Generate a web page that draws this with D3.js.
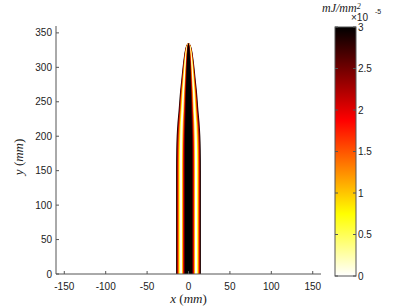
<!DOCTYPE html>
<html>
<head>
<meta charset="utf-8">
<script src="https://cdn.jsdelivr.net/npm/d3@7"></script>
<style>
  body { margin: 0; background: #fff; }
  text { font-family: "Liberation Sans", Arial, sans-serif; }
  .tex { font-family: "Liberation Serif", "Times New Roman", serif; }
</style>
</head>
<body>
<svg id="chart" width="409" height="307"></svg>
<script>
// bullet outline: half width (mm) read at heights y (mm)
var levelY = [0, 50, 100, 150, 180, 200, 220, 237, 250, 265, 281, 293, 305, 315, 324, 329, 332, 334, 335.5]
var halfWidth = [15, 15, 15, 15, 14.8, 14.3, 13.3, 12, 11.2, 10.2, 8.8, 7.8, 6.7, 5.6, 4.4, 3.4, 2.5, 1.6, 0]

// cross profile, centre outward: outer edge of each band (fraction of half width) and its value (x1e-5 mJ/mm^2)
var bandEdge = [1.0, 0.93, 0.85, 0.77, 0.7, 0.52, 0.45, 0.38, 0.3]
var bandValue = [2.9, 2.2, 1.4, 0.7, 0.05, 1.0, 1.8, 2.5, 3.0]

var xTicks = [-150, -100, -50, 0, 50, 100, 150]
var yTicks = [0, 50, 100, 150, 200, 250, 300, 350]
var cbTicks = [0, 0.5, 1, 1.5, 2, 2.5, 3]

const svg = d3.select('#chart')

const x = d3.scaleLinear().domain([-160, 160]).range([56, 321])
const y = d3.scaleLinear().domain([0, 360]).range([274, 26])

// flipped "hot" colormap
const color = d3.scaleLinear()
  .domain([0, 0.75, 1.875, 3])
  .range(['#ffffff', '#ffff00', '#ff0000', '#000000'])
  .clamp(true)

const outline = levelY.map((v, i) => ({y: v, hw: halfWidth[i]}))

// bands painted from the outside in, each one covering the middle
const field = svg.append('g')
bandEdge.forEach((f, k) => {
  const area = d3.area()
    .curve(d3.curveMonotoneY)
    .y((d) => y(d.y))
    .x0((d) => x(-d.hw * f))
    .x1((d) => x(d.hw * f))
  field.append('path')
    .datum(outline)
    .attr('d', area)
    .attr('fill', color(bandValue[k]))
})

const axisColor = '#555'

// y axis
const gy = svg.append('g')
gy.append('line')
  .attr('x1', x(-160)).attr('x2', x(-160))
  .attr('y1', y(0)).attr('y2', y(360))
  .attr('stroke', axisColor)
gy.selectAll('line.tick')
  .data(yTicks).enter().append('line')
  .attr('class', 'tick')
  .attr('x1', x(-160)).attr('x2', x(-160) + 3)
  .attr('y1', (d) => y(d)).attr('y2', (d) => y(d))
  .attr('stroke', axisColor)
gy.selectAll('text')
  .data(yTicks).enter().append('text')
  .attr('x', x(-160) - 4)
  .attr('y', (d) => y(d) + 3.5)
  .attr('text-anchor', 'end')
  .attr('font-size', 10)
  .attr('fill', '#222')
  .text((d) => d)

// x axis
const gx = svg.append('g')
gx.append('line')
  .attr('x1', x(-160)).attr('x2', x(160))
  .attr('y1', y(0)).attr('y2', y(0))
  .attr('stroke', axisColor)
gx.selectAll('line.tick')
  .data(xTicks).enter().append('line')
  .attr('class', 'tick')
  .attr('x1', (d) => x(d)).attr('x2', (d) => x(d))
  .attr('y1', y(0)).attr('y2', y(0) - 3)
  .attr('stroke', axisColor)
gx.selectAll('text')
  .data(xTicks).enter().append('text')
  .attr('x', (d) => x(d))
  .attr('y', y(0) + 16)
  .attr('text-anchor', 'middle')
  .attr('font-size', 10)
  .attr('fill', '#222')
  .text((d) => d)

// axis labels
const xl = svg.append('text')
  .attr('class', 'tex')
  .attr('x', x(0))
  .attr('y', 303)
  .attr('text-anchor', 'middle')
  .attr('font-size', 13)
  .attr('fill', '#222')
xl.append('tspan').attr('font-style', 'italic').text('x')
xl.append('tspan').text(' (')
xl.append('tspan').attr('font-style', 'italic').text('mm')
xl.append('tspan').text(')')

const yl = svg.append('text')
  .attr('class', 'tex')
  .attr('transform', 'translate(23,' + y(170) + ') rotate(-90)')
  .attr('text-anchor', 'middle')
  .attr('font-size', 13)
  .attr('fill', '#222')
yl.append('tspan').attr('font-style', 'italic').text('y')
yl.append('tspan').text(' (')
yl.append('tspan').attr('font-style', 'italic').text('mm')
yl.append('tspan').text(')')

// colorbar
const cb = d3.scaleLinear().domain([0, 3]).range([276, 27])
const cbx0 = 335, cbx1 = 356

const grad = svg.append('defs').append('linearGradient')
  .attr('id', 'cbgrad')
  .attr('x1', 0).attr('y1', 1).attr('x2', 0).attr('y2', 0)
grad.selectAll('stop')
  .data(color.domain()).enter().append('stop')
  .attr('offset', (d) => d / 3)
  .attr('stop-color', (d) => color(d))

svg.append('rect')
  .attr('x', cbx0).attr('y', cb(3))
  .attr('width', cbx1 - cbx0).attr('height', cb(0) - cb(3))
  .attr('fill', 'url(#cbgrad)')
  .attr('stroke', axisColor)

svg.append('g').selectAll('line')
  .data(cbTicks.flatMap((t) => [[t, cbx0, cbx0 + 3], [t, cbx1, cbx1 - 3]]))
  .enter().append('line')
  .attr('x1', (d) => d[1]).attr('x2', (d) => d[2])
  .attr('y1', (d) => cb(d[0])).attr('y2', (d) => cb(d[0]))
  .attr('stroke', axisColor)

svg.append('g').selectAll('text')
  .data(cbTicks).enter().append('text')
  .attr('x', cbx1 + 2)
  .attr('y', (d) => cb(d) + 3.5)
  .attr('font-size', 10)
  .attr('fill', '#222')
  .text((d) => d)

svg.append('text')
  .attr('x', 351).attr('y', 21)
  .attr('font-size', 10)
  .attr('fill', '#222')
  .text('\u00d710')
svg.append('text')
  .attr('x', 375).attr('y', 14)
  .attr('font-size', 7)
  .attr('fill', '#222')
  .text('-5')

const ct = svg.append('text')
  .attr('class', 'tex')
  .attr('x', 322).attr('y', 12)
  .attr('font-size', 12)
  .attr('font-style', 'italic')
  .attr('fill', '#222')
ct.append('tspan').text('mJ/mm')
ct.append('tspan').attr('font-size', 8).attr('dy', -3).text('2')
</script>
</body>
</html>
